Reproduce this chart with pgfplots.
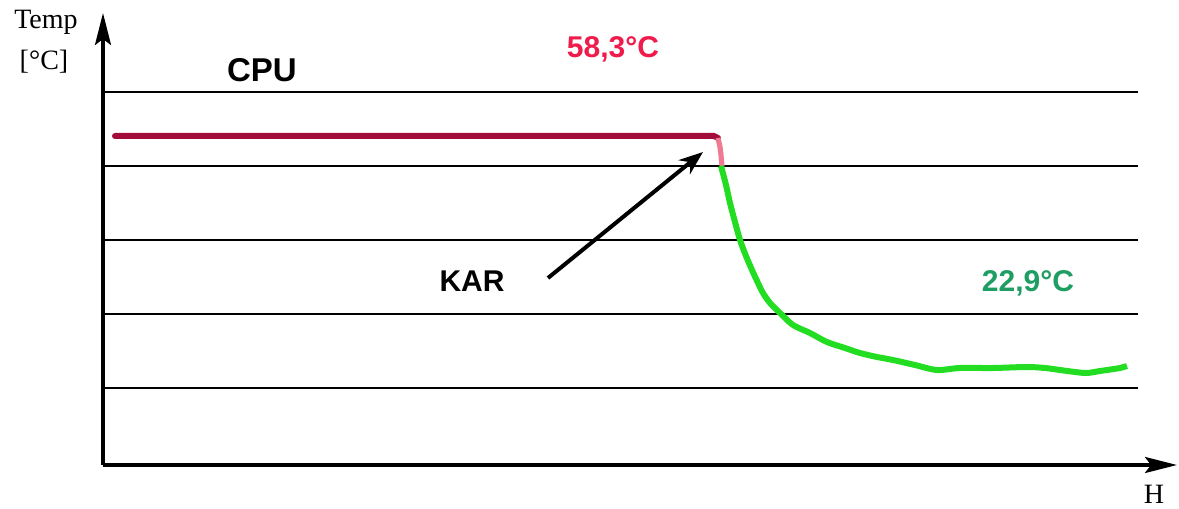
\documentclass[border=0pt]{standalone}
\usepackage{pgfplots}
\pgfplotsset{compat=1.18}
\usetikzlibrary{arrows.meta}
\usepackage{fontspec}
\setmainfont{Liberation Sans}
\newfontfamily\seriffont{Liberation Serif}
\definecolor{cpured}{HTML}{A30D3C}
\definecolor{hotpink}{HTML}{EE1B4B}
\definecolor{karpink}{HTML}{F07A92}
\definecolor{coolgreen}{HTML}{22DD22}
\definecolor{labelgreen}{HTML}{1E9E62}
\begin{document}
\begin{tikzpicture}
  \begin{axis}
    [ width=537pt
    , height=226pt
    , scale only axis
    , xmin=103, xmax=1177
    , ymin=0, ymax=452
    , axis lines=left
    , axis line style={line width=1.6pt, -{Stealth[length=16pt,width=8pt,inset=3pt]}}
    , xtick=\empty, ytick=\empty
    , clip=false
    ]
    % horizontal guide lines
    \addplot[black, line width=0.75pt, no marks] coordinates {(103,373) (1138,373)};
    \addplot[black, line width=0.75pt, no marks] coordinates {(103,299) (1138,299)};
    \addplot[black, line width=0.75pt, no marks] coordinates {(103,225) (1138,225)};
    \addplot[black, line width=0.75pt, no marks] coordinates {(103,151) (1138,151)};
    \addplot[black, line width=0.75pt, no marks] coordinates {(103,77) (1138,77)};
    % CPU (constant)
    \addplot[cpured, line width=3pt, no marks, line cap=round]
      coordinates {(115,329) (714,329) (718,327)};
    % KAR transition
    \addplot[karpink, line width=2.6pt, no marks]
      coordinates {(718,327) (720,318) (721,310) (722,299)};
    % cooling curve
    \addplot[coolgreen, line width=3pt, no marks, line join=round, smooth, tension=0.5]
      coordinates {(721,299) (726,280) (730,262) (735,243) (740,225) (746,209)
        (752,195) (758,182) (763,172) (770,162) (780,152) (793,140) (810,132)
        (827,123) (845,117) (860,112) (877,108) (893,105) (915,100) (937,95)
        (960,97) (993,97) (1027,98) (1045,97) (1060,95) (1075,93) (1087,92)
        (1100,94) (1107,95) (1120,97) (1127,99)};
    % annotations
    \draw[line width=2pt, -{Stealth[length=12pt,width=9pt]}]
      (axis cs:548,187) -- (axis cs:703,313);
    \node[anchor=base, font=\seriffont\fontsize{14}{15}\selectfont] at (axis cs:46,436) {Temp};
    \node[anchor=base, font=\seriffont\fontsize{14}{15}\selectfont] at (axis cs:44,395) {[°C]};
    \node[anchor=base, font=\fontsize{16.5}{17}\selectfont\bfseries] at (axis cs:262,383) {CPU};
    \node[anchor=base, text=hotpink, font=\fontsize{15}{16}\selectfont\bfseries] at (axis cs:613,407) {58,3°C};
    \node[anchor=base, font=\fontsize{15}{16}\selectfont\bfseries] at (axis cs:472,173) {KAR};
    \node[anchor=base, text=labelgreen, font=\fontsize{15}{16}\selectfont\bfseries] at (axis cs:1028,173) {22,9°C};
    \node[anchor=base, font=\seriffont\fontsize{14}{15}\selectfont] at (axis cs:1154,-38) {H};
    \coordinate (bbsw) at (axis cs:0,-44);
    \coordinate (bbne) at (axis cs:1179,465);
  \end{axis}
  \pgfresetboundingbox
  \path[use as bounding box] (bbsw) rectangle (bbne);
\end{tikzpicture}
\end{document}
